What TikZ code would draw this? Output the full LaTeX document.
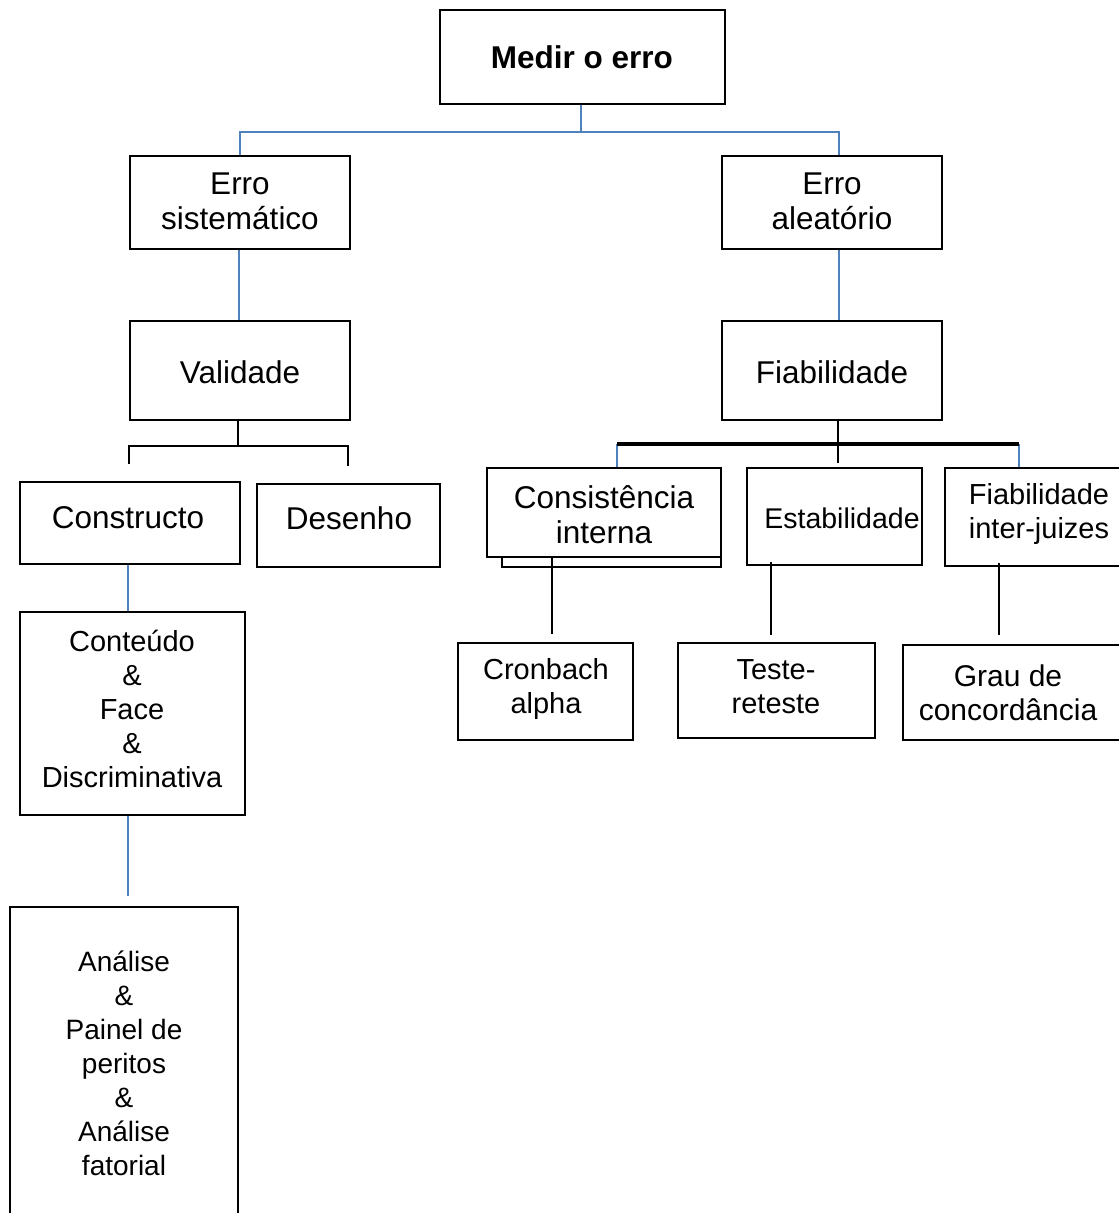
\documentclass[tikz,border=0pt]{standalone}
\usepackage{fontspec}
\setmainfont{Liberation Sans}
\usetikzlibrary{calc}
\definecolor{conblue}{RGB}{79,129,189}
\begin{document}
\begin{tikzpicture}[x=1pt,y=-1pt,
  bx/.style={draw=black, line width=1.8pt, fill=white, inner sep=0pt},
  txt/.style={align=center, inner sep=0pt, font=\fontsize{31.5}{35}\selectfont},
  txts/.style={align=center, inner sep=0pt, font=\fontsize{29}{34}\selectfont},
  bl/.style={draw=conblue, line width=2pt},
  blk/.style={draw=black, line width=2.4pt},
  blkthick/.style={draw=black, line width=3.4pt}]
\useasboundingbox (0,0) rectangle (1119,1213);

% boxes
\node[bx, minimum width=285pt, minimum height=94pt] (medir) at (582.5,57) {};
\node[txt, font=\fontsize{31.5}{35}\selectfont\bfseries] (medirT) at (582,57) {Medir o erro};

\node[bx, minimum width=220pt, minimum height=93pt] (sis) at (240,202.5) {};
\node[txt] (sisT) at (240,201) {Erro\\sistemático};

\node[bx, minimum width=220pt, minimum height=93pt] (ale) at (832,202.5) {};
\node[txt] (aleT) at (832,201) {Erro\\aleatório};

\node[bx, minimum width=220pt, minimum height=99pt] (val) at (240,370.5) {};
\node[txt] (valT) at (240,372) {Validade};

\node[bx, minimum width=220pt, minimum height=99pt] (fia) at (832,370.5) {};
\node[txt] (fiaT) at (832,372) {Fiabilidade};

\node[bx, minimum width=220pt, minimum height=82pt] (cons) at (130,523) {};
\node[txt] (consT) at (128,518) {Constructo};

\node[bx, minimum width=183pt, minimum height=83pt] (des) at (348.5,525.5) {};
\node[txt] (desT) at (349,518) {Desenho};

\node[bx, minimum width=225pt, minimum height=203pt] (cont) at (132.5,713.5) {};
\node[txts] (contT) at (132,709) {Conteúdo\\\&\\Face\\\&\\Discriminativa};

\node[bx, minimum width=228pt, minimum height=313pt] (anal) at (124,1063.5) {};
\node[txts, font=\fontsize{28}{34}\selectfont] (analT) at (124,1063) {Análise\\\&\\Painel de\\peritos\\\&\\Análise\\fatorial};

% Consistência with shadow box
\node[bx, minimum width=219pt, minimum height=90pt] (cis) at (611.5,522) {};
\node[bx, minimum width=234pt, minimum height=89pt] (ci) at (604,512.5) {};
\node[txt] (ciT) at (604,515) {Consistência\\interna};

\node[bx, minimum width=175pt, minimum height=97pt] (est) at (834.5,516.5) {};
\node[txts, font=\fontsize{28.5}{34}\selectfont] (estT) at (842,518) {Estabilidade};

\node[bx, minimum width=180pt, minimum height=98pt] (fij) at (1035,517) {};
\node[txts] (fijT) at (1039,513.5) {Fiabilidade\\inter-juizes};

\node[bx, minimum width=175pt, minimum height=97pt] (cr) at (545.5,691.5) {};
\node[txts] (crT) at (546,689) {Cronbach\\alpha};

\node[bx, minimum width=197pt, minimum height=95pt] (tr) at (776.5,690.5) {};
\node[txts] (trT) at (776,687) {Teste-\\reteste};

\node[bx, minimum width=222pt, minimum height=95pt] (gr) at (1014,692.5) {};
\node[txts, font=\fontsize{30}{34}\selectfont] (grT) at (1008,693) {Grau de\\concordância};

% connectors: top
\draw[bl] ([xshift=-1.5pt]medir.south) -- ++(0,27) coordinate (tj);
\draw[bl] (sis.north) |- (tj) -| ([xshift=7pt]ale.north);
\draw[bl] ([xshift=-1pt]sis.south) -- ([xshift=-1pt]val.north);
\draw[bl] ([xshift=7pt]ale.south) -- ([xshift=7pt]fia.north);

% Validade bracket
\draw[blk] ([xshift=-2pt]val.south) -- ++(0,25) coordinate (vj);
\draw[blk] ([xshift=-1pt,yshift=17pt]cons.north) |- (vj) -| ([xshift=-0.5pt,yshift=17pt]des.north);
\draw[bl] ([xshift=-2pt]cons.south) -- ([xshift=-4.5pt]cont.north);
\draw[bl] ([xshift=-4.5pt]cont.south) -- ([xshift=4pt,yshift=10pt]anal.north);

% Fiabilidade branch
\draw[bl] ([xshift=13pt]ci.north) -- ++(0,-23) coordinate (h1);
\draw[bl] ([xshift=-16pt]fij.north) -- ++(0,-23) coordinate (h2);
\draw[blk] ([xshift=6pt]fia.south) -- ([xshift=6pt,yshift=4pt]fia.south |- est.north);
\draw[blkthick] (h1) -- (h2);

\draw[blk] ([xshift=-52pt]ci.south) -- ([xshift=6.5pt,yshift=8pt]cr.north);
\draw[blk] ([xshift=-63.5pt,yshift=4pt]est.south) -- ([xshift=-5.5pt,yshift=7pt]tr.north);
\draw[blk] ([xshift=-36pt,yshift=4pt]fij.south) -- ([xshift=-15pt,yshift=9pt]gr.north);
\end{tikzpicture}
\end{document}
